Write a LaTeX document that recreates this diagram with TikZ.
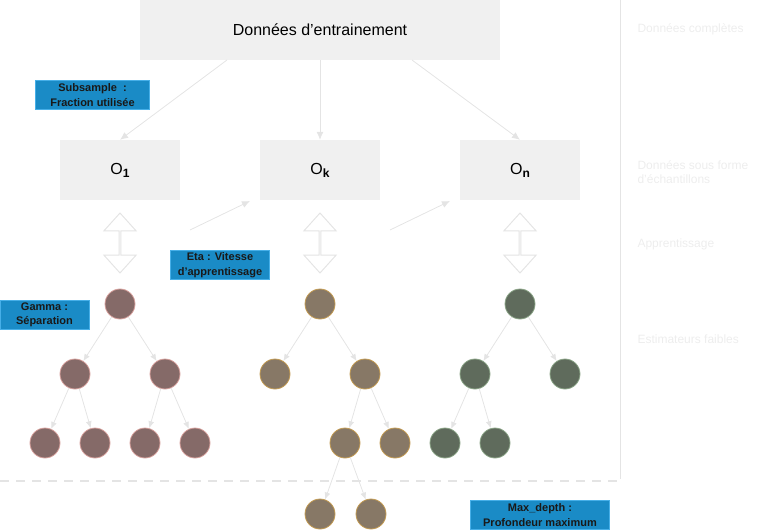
\documentclass[tikz,border=0pt]{standalone}
\usepackage{fontspec}
\setmainfont{Liberation Sans}
\usetikzlibrary{positioning,arrows.meta,calc,shapes.arrows}
\definecolor{boxgray}{RGB}{240,240,240}
\definecolor{linegray}{RGB}{228,228,228}
\definecolor{paramblue}{RGB}{26,139,198}
\definecolor{paramedge}{RGB}{70,175,232}
\definecolor{treeA}{RGB}{133,106,104}
\definecolor{treeAedge}{RGB}{214,160,156}
\definecolor{treeB}{RGB}{135,120,102}
\definecolor{treeBedge}{RGB}{196,156,84}
\definecolor{treeC}{RGB}{95,107,92}
\definecolor{treeCedge}{RGB}{140,165,136}

\begin{document}
\begin{tikzpicture}[x=1pt, y=-1pt,
  databox/.style={fill=boxgray, inner sep=0pt},
  param/.style={draw=paramedge, fill=paramblue, line width=1pt, inner sep=1pt, align=center,
    font=\fontsize{11}{14.5}\selectfont\bfseries, text=black!90},
  side/.style={anchor=west, align=left, text=black!7, font=\fontsize{12}{14}\selectfont},
  link/.style={draw=linegray, line width=0.8pt, -{Latex[length=8pt,width=7pt]}},
  swap/.style={double arrow, shape border rotate=90, draw=linegray, line width=1pt,
    minimum width=32pt, minimum height=60pt, double arrow head extend=10pt,
    double arrow tip angle=84, inner sep=0pt},
  leaf/.style={circle, minimum size=30pt, inner sep=0pt, line width=0.8pt}]
  \useasboundingbox (0,0) rectangle (761,532);

  % data
  \node[databox, minimum width=360pt, minimum height=60pt, font=\fontsize{16}{19}\selectfont] (train) at (320,30) {Donn\'ees d'entrainement};
  \foreach \i/\x/\t in {1/120/1, k/320/k, n/520/n}
    \node[databox, minimum width=120pt, minimum height=60pt, font=\fontsize{16}{19}\selectfont] (o\i) at (\x,170)
      {O\raisebox{-3pt}{\fontsize{12}{13}\selectfont\bfseries\t}};

  \coordinate (tl) at (227,60);
  \coordinate (tr) at (412,60);
  \draw[link] (tl) -- (o1.north);
  \draw[link] (train.south) -- (ok.north);
  \draw[link] (tr) -- (on.north);
  \coordinate (e1) at (190,230); \coordinate (e1t) at (250,201);
  \coordinate (e2) at (390,230); \coordinate (e2t) at (450,201);
  \draw[link] (e1) -- (e1t);
  \draw[link] (e2) -- (e2t);

  \foreach \x/\n in {120/a, 320/b, 520/c}
    \node[swap] (sw\n) at (\x,243) {};

  % frame
  \coordinate (ftop) at (620,0);
  \coordinate (fbot) at (620,479);
  \coordinate (fleft) at (0,481);
  \draw[linegray, line width=1pt] (ftop) -- (fbot);
  \draw[linegray, line width=2.5pt, dash pattern=on 9pt off 7pt] (fleft) -- (fbot |- fleft);

  % trees
  \tikzset{ta/.style={leaf, fill=treeA, draw=treeAedge},
           tb/.style={leaf, fill=treeB, draw=treeBedge},
           tc/.style={leaf, fill=treeC, draw=treeCedge}}
  \node[ta] (a0) at (120,304) {};
  \node[ta] (a1) at (75,374) {};  \node[ta] (a2) at (165,374) {};
  \node[ta] (a3) at (45,443) {};  \node[ta] (a4) at (95,443) {};
  \node[ta] (a5) at (145,443) {}; \node[ta] (a6) at (195,443) {};
  \node[tb] (b0) at (320,304) {};
  \node[tb] (b1) at (275,374) {}; \node[tb] (b2) at (365,374) {};
  \node[tb] (b3) at (345,443) {}; \node[tb] (b4) at (395,443) {};
  \node[tb] (b5) at (320,514) {}; \node[tb] (b6) at (371,514) {};
  \node[tc] (c0) at (520,304) {};
  \node[tc] (c1) at (475,374) {}; \node[tc] (c2) at (565,374) {};
  \node[tc] (c3) at (445,443) {}; \node[tc] (c4) at (495,443) {};
  \foreach \p/\c in {a0/a1, a0/a2, a1/a3, a1/a4, a2/a5, a2/a6,
                     b0/b1, b0/b2, b2/b3, b2/b4, b3/b5, b3/b6,
                     c0/c1, c0/c2, c1/c3, c1/c4}
    \draw[link, -{Latex[length=7pt,width=6pt]}] (\p) -- (\c);

  % parameters
  \node[param, minimum width=114pt, minimum height=29pt] (sub) at (92.5,95) {Subsample~ :\\Fraction utilis\'ee};
  \node[param, minimum width=99pt, minimum height=29pt] (eta) at (220,265) {Eta : Vitesse\\d'apprentissage};
  \node[param, minimum width=89pt, minimum height=29pt] (gam) at (44.5,315) {Gamma :\\S\'eparation};
  \node[param, minimum width=139pt, minimum height=29pt] (mdp) at (540,515) {Max\_depth :\\Profondeur maximum};

  % stages
  \node[side] (s1) at (634,29) {Donn\'ees compl\`etes};
  \node[side] (s2) at (634,172) {Donn\'ees sous forme\\d'\'echantillons};
  \node[side] (s3) at (634,244) {Apprentissage};
  \node[side] (s4) at (634,339) {Estimateurs faibles};
\end{tikzpicture}
\end{document}
